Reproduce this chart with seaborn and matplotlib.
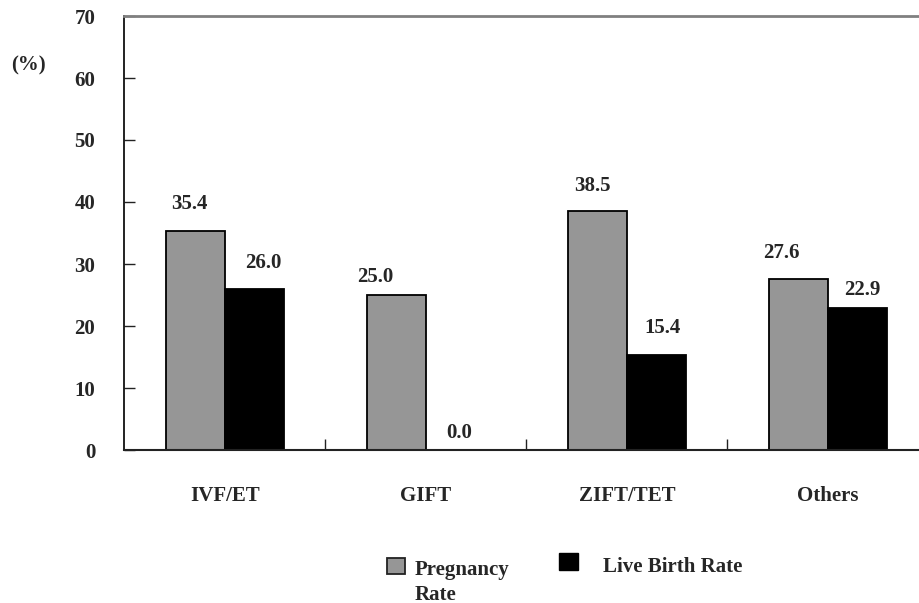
import matplotlib
matplotlib.use("Agg")
import matplotlib.pyplot as plt
from matplotlib.patches import Rectangle
import pandas as pd
import seaborn as sns

# ---- data ----
methods = ["IVF/ET", "GIFT", "ZIFT/TET", "Others"]
pregnancy_rate = [35.4, 25.0, 38.5, 27.6]
live_birth_rate = [26.0, 0.0, 15.4, 22.9]
series_names = ["Pregnancy Rate", "Live Birth Rate"]
y_ticks = [0, 10, 20, 30, 40, 50, 60, 70]

# label nudges (pixels) from each bar's top centre
label_nudge = {
    "Pregnancy Rate": [(-6, 29.5), (-21, 20), (-5, 28), (-17.5, 28)],
    "Live Birth Rate": [(9, 28), (3.5, 20), (6.5, 29.5), (4.5, 20.5)],
}

GRAY = "#969696"
BLACK = "#000000"

df = pd.DataFrame({
    "Method": methods * 2,
    "Rate": pregnancy_rate + live_birth_rate,
    "Series": [series_names[0]] * len(methods) + [series_names[1]] * len(methods),
})

sns.set_style("white")
plt.rcParams["font.family"] = ["Liberation Serif", "DejaVu Serif"]
plt.rcParams["font.weight"] = "bold"
plt.rcParams["font.size"] = 15

W, H = 920, 603
fig = plt.figure(figsize=(W / 100, H / 100), dpi=100)
ax = fig.add_axes([124.5 / W, 153 / H, 804 / W, 434 / H])

sns.barplot(
    data=df, x="Method", y="Rate", hue="Series", order=methods,
    hue_order=series_names, palette=[GRAY, BLACK], width=0.587,
    errorbar=None, edgecolor="black", linewidth=1.3, saturation=1,
    legend=False, ax=ax,
)

# value labels
values = {series_names[0]: pregnancy_rate, series_names[1]: live_birth_rate}
for name, container in zip(series_names, ax.containers):
    for bar, val, (dx, dy) in zip(container, values[name], label_nudge[name]):
        xc = bar.get_x() + bar.get_width() / 2
        ax.annotate(f"{val:.1f}", xy=(xc, val), xytext=(dx, dy),
                    textcoords="offset pixels", ha="center",
                    va="center_baseline", fontweight="bold", fontsize=15,
                    annotation_clip=False)

ax.set_xlim(-0.5, 3.5)
ax.set_ylim(0, 70)
ax.set_yticks(y_ticks)
ax.set_xlabel("")
ax.set_ylabel("")

ax.set_xticks(range(len(methods)))
ax.set_xticklabels(methods)
ax.set_xticks([0.5, 1.5, 2.5], minor=True)
ax.tick_params(axis="x", which="major", length=0, pad=26, labelsize=15)
ax.tick_params(axis="x", which="minor", direction="in", length=8, width=1,
               color="#222222", bottom=True)
ax.tick_params(axis="y", direction="in", length=8, width=1, pad=21,
               left=True, color="#222222", labelsize=15)

ax.spines["top"].set_color("#808080")
ax.spines["top"].set_linewidth(2)
ax.spines["right"].set_visible(False)
ax.spines["left"].set_color("#111111")
ax.spines["left"].set_linewidth(1.3)
ax.spines["bottom"].set_color("#222222")
ax.spines["bottom"].set_linewidth(1.5)

fig.text(28.5 / W, 1 - 62.5 / H, "(%)", ha="center", va="center_baseline",
         fontsize=15, fontweight="bold")

# legend drawn below the axes
fig.add_artist(Rectangle((387 / W, 29 / H), 18 / W, 16 / H,
                         transform=fig.transFigure, facecolor=GRAY,
                         edgecolor="#222222", linewidth=1.3))
fig.text(415 / W, 1 - 560.5 / H, "Pregnancy\nRate", ha="left", va="top",
         linespacing=1.28, fontsize=15, fontweight="bold")
fig.add_artist(Rectangle((559 / W, 33 / H), 19 / W, 17 / H,
                         transform=fig.transFigure, facecolor=BLACK,
                         edgecolor=BLACK, linewidth=1))
fig.text(603 / W, 1 - 557.5 / H, "Live Birth Rate", ha="left", va="top",
         fontsize=15, fontweight="bold")

fig.savefig("out.png", dpi=100)
